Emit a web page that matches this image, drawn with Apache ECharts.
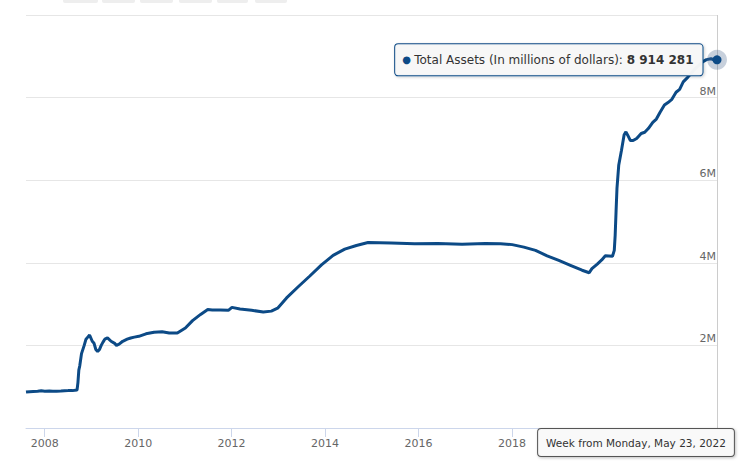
<!DOCTYPE html>
<html>
<head>
<meta charset="utf-8">
<script src="https://cdn.jsdelivr.net/npm/echarts@6/dist/echarts.min.js"></script>
<style>
html,body{margin:0;padding:0;background:#fff;}
#chart{width:740px;height:468px;}
</style>
</head>
<body>
<div id="chart"></div>
<script>
// Weekly dates (sampled) and Total Assets, in millions of dollars
const dates = [
'2007-08-08','2007-09-05','2007-10-03','2007-11-07','2007-12-05','2008-01-02','2008-02-06','2008-03-05','2008-04-02','2008-05-07','2008-06-04','2008-07-02','2008-08-06','2008-09-10','2008-09-17','2008-09-24','2008-10-01','2008-10-15','2008-11-05','2008-11-19','2008-12-03','2008-12-17','2009-01-07','2009-01-21','2009-02-04','2009-02-18','2009-03-04','2009-03-18','2009-04-01','2009-04-15','2009-05-06','2009-06-03','2009-07-01','2009-07-15','2009-08-05','2009-09-02','2009-10-07','2009-11-04','2009-12-02','2010-01-06','2010-03-03','2010-05-05','2010-07-07','2010-09-01','2010-11-03','2011-01-05','2011-03-02','2011-05-04','2011-06-29','2011-08-03','2011-10-05','2011-12-07','2012-01-04','2012-03-07','2012-06-06','2012-09-05','2012-11-07','2012-12-26','2013-03-06','2013-06-05','2013-09-04','2013-12-04','2014-03-05','2014-06-04','2014-09-03','2014-12-03','2015-06-03','2015-12-02','2016-06-01','2016-12-07','2017-06-07','2017-10-04','2018-01-03','2018-04-04','2018-07-04','2018-10-03','2019-01-02','2019-04-03','2019-07-03','2019-08-28','2019-09-18','2019-10-30','2019-12-04','2020-01-01','2020-02-26','2020-03-11','2020-03-18','2020-03-25','2020-04-01','2020-04-15','2020-05-06','2020-05-27','2020-06-10','2020-06-24','2020-07-15','2020-08-05','2020-09-02','2020-10-07','2020-11-04','2020-12-02','2021-01-06','2021-02-03','2021-03-03','2021-04-07','2021-05-05','2021-06-02','2021-07-07','2021-08-04','2021-09-01','2021-10-06','2021-11-03','2021-12-01','2022-01-05','2022-02-02','2022-03-02','2022-04-06','2022-05-04','2022-05-23'
];
const assets = [
870000,880000,885000,890000,900000,890000,895000,890000,890000,895000,900000,905000,905000,920000,1100000,1400000,1500000,1800000,2000000,2150000,2200000,2250000,2100000,2050000,1900000,1850000,1900000,2000000,2080000,2150000,2180000,2100000,2050000,2000000,2030000,2100000,2150000,2180000,2200000,2220000,2280000,2320000,2330000,2300000,2300000,2420000,2600000,2750000,2870000,2860000,2860000,2850000,2920000,2880000,2850000,2810000,2830000,2900000,3150000,3420000,3680000,3950000,4180000,4330000,4420000,4490000,4480000,4460000,4470000,4450000,4470000,4460000,4440000,4380000,4300000,4170000,4060000,3940000,3820000,3760000,3860000,3970000,4070000,4170000,4160000,4300000,4670000,5250000,5800000,6370000,6720000,7100000,7170000,7090000,6960000,6960000,7010000,7130000,7160000,7250000,7400000,7480000,7640000,7820000,7880000,7950000,8130000,8200000,8380000,8490000,8590000,8690000,8790000,8870000,8920000,8940000,8910000,8914281
];
const xTickYears = ['2008','2010','2012','2014','2016','2018'];
const yTicks = [0, 2000000, 4000000, 6000000, 8000000, 10000000];
const seriesName = 'Total Assets (In millions of dollars)';
const lastLabel = 'Week from Monday, May 23, 2022';

const lineColor = '#0c4a86';
const fontFam = '"DejaVu Sans", "Liberation Sans", sans-serif';
const toTs = d => new Date(d + 'T00:00:00').getTime();
const data = dates.map((d, i) => [toTs(d), assets[i]]);
const lastIdx = dates.length - 1;
const yearTs = xTickYears.map(y => toTs(y + '-01-01'));

function fmtNum(v) {
  return String(v).replace(/\B(?=(\d{3})+(?!\d))/g, ' ');
}

const chart = echarts.init(document.getElementById('chart'), null, {renderer: 'svg'});
chart.setOption({
  animation: false,
  backgroundColor: '#ffffff',
  grid: {left: 26, right: 23, top: 15, bottom: 40},
  xAxis: {
    type: 'value',
    min: data[0][0],
    max: data[lastIdx][0],
    axisLine: {show: true, lineStyle: {color: '#ccd6eb', width: 1}},
    axisTick: {show: true, length: 9, customValues: yearTs, lineStyle: {color: '#ccd6eb'}},
    axisLabel: {
      customValues: yearTs,
      formatter: v => String(new Date(v).getFullYear()),
      color: '#666666', fontSize: 11, fontFamily: fontFam, margin: 10
    },
    splitLine: {show: false}
  },
  yAxis: {
    type: 'value',
    position: 'right',
    min: yTicks[0],
    max: yTicks[yTicks.length - 1],
    interval: yTicks[1] - yTicks[0],
    axisLine: {show: false},
    axisTick: {show: false},
    splitLine: {lineStyle: {color: '#e6e6e6', width: 1}},
    axisLabel: {
      inside: true,
      margin: 1,
      verticalAlign: 'bottom',
      padding: [0, 0, 1, 0],
      color: '#666666', fontSize: 11, fontFamily: fontFam,
      formatter: v => (v === 0 || v === yTicks[yTicks.length - 1]) ? '' : (v / 1000000) + 'M'
    }
  },
  series: [{
    name: seriesName,
    type: 'line',
    data: data,
    showSymbol: false,
    symbol: 'none',
    lineStyle: {color: lineColor, width: 3},
    z: 3,
    markLine: {
      silent: true,
      symbol: ['none', 'none'],
      lineStyle: {color: '#cccccc', width: 1, type: 'solid'},
      label: {
        show: true,
        position: 'start',
        distance: 1,
        offset: [-81, 0],
        formatter: lastLabel,
        color: '#333333',
        fontSize: 10.5,
        fontFamily: fontFam,
        lineHeight: 14,
        backgroundColor: 'rgba(250,250,250,0.97)',
        borderColor: '#555555',
        borderWidth: 1,
        borderRadius: 3,
        padding: [7, 8, 6, 8],
        shadowColor: 'rgba(0,0,0,0.25)',
        shadowBlur: 3,
        shadowOffsetX: 1,
        shadowOffsetY: 1
      },
      data: [{xAxis: data[lastIdx][0]}]
    },
    markPoint: {
      silent: true,
      data: [
        {
          coord: data[lastIdx],
          symbol: 'circle',
          symbolSize: 20,
          itemStyle: {color: 'rgba(70,100,140,0.3)'},
          label: {show: false}
        },
        {
          coord: data[lastIdx],
          symbol: 'circle',
          symbolSize: 9,
          itemStyle: {color: lineColor},
          label: {
            show: true,
            position: 'left',
            distance: 10,
            formatter: '{dot|●} {name|' + seriesName + ': }{val|' + fmtNum(assets[lastIdx]) + '}',
            backgroundColor: 'rgba(248,248,248,0.97)',
            borderColor: lineColor,
            borderWidth: 1,
            borderRadius: 3,
            padding: [8, 9, 8, 7],
            shadowColor: 'rgba(0,0,0,0.2)',
            shadowBlur: 3,
            shadowOffsetX: 1,
            shadowOffsetY: 1,
            rich: {
              dot: {color: lineColor, fontSize: 10, fontFamily: fontFam, lineHeight: 15},
              name: {color: '#333333', fontSize: 12, fontFamily: fontFam, lineHeight: 15},
              val: {color: '#333333', fontSize: 12, fontWeight: 'bold', fontFamily: fontFam, lineHeight: 15}
            }
          }
        }
      ]
    }
  }],
  graphic: [
    {type: 'rect', left: 63, top: 0, shape: {width: 35, height: 3, r: [0,0,2,2]}, style: {fill: '#eeeeee'}},
    {type: 'rect', left: 102, top: 0, shape: {width: 33, height: 3, r: [0,0,2,2]}, style: {fill: '#eeeeee'}},
    {type: 'rect', left: 140, top: 0, shape: {width: 33, height: 3, r: [0,0,2,2]}, style: {fill: '#eeeeee'}},
    {type: 'rect', left: 179, top: 0, shape: {width: 33, height: 3, r: [0,0,2,2]}, style: {fill: '#eeeeee'}},
    {type: 'rect', left: 217, top: 0, shape: {width: 31, height: 3, r: [0,0,2,2]}, style: {fill: '#eeeeee'}},
    {type: 'rect', left: 255, top: 0, shape: {width: 32, height: 3, r: [0,0,2,2]}, style: {fill: '#eeeeee'}}
  ]
});
</script>
</body>
</html>
